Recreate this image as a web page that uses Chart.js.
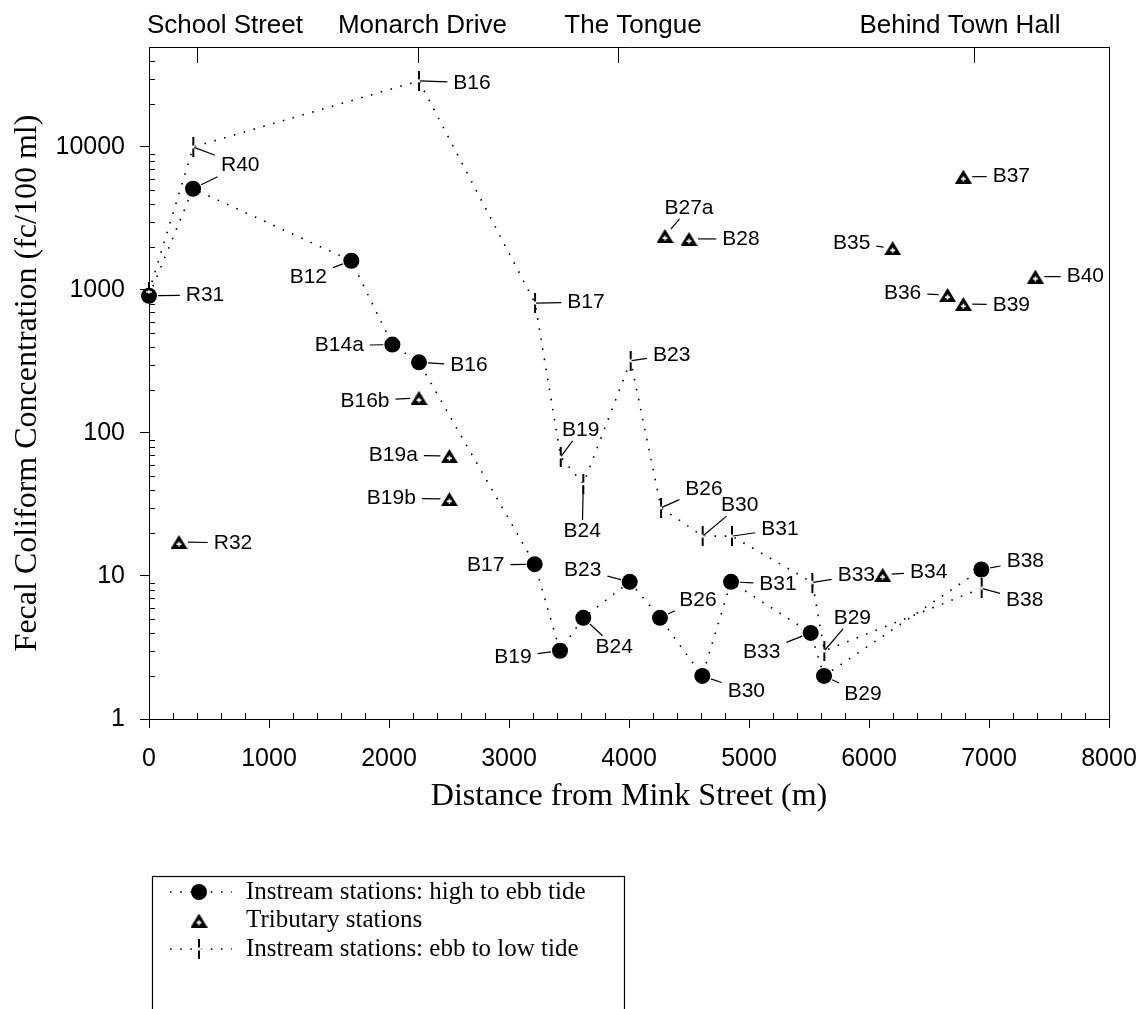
<!DOCTYPE html>
<html>
<head>
<meta charset="utf-8">
<title>Fecal coliform along the creek</title>
<script src="https://cdn.jsdelivr.net/npm/chart.js@4.4.1/dist/chart.umd.min.js"></script>
<style>
  html, body { margin: 0; padding: 0; background: #fff; }
  canvas { display: block; }
</style>
</head>
<body>
<canvas id="chart" width="1142" height="1009"></canvas>
<script>
// ---- Data -------------------------------------------------------------
// Instream stations, sampled from high to ebb tide
const highStations = ['R31', 'R40', 'B12', 'B14a', 'B16', 'B17', 'B19', 'B24', 'B23', 'B26', 'B30', 'B31', 'B33', 'B29', 'B38'];
const highDistance = [0, 367, 1686, 2028, 2250, 3214, 3425, 3619, 4006, 4258, 4611, 4850, 5514, 5625, 6936];
const highCount    = [910, 5100, 1600, 415, 312, 12.1, 3.0, 5.1, 9.1, 5.1, 2.0, 9.1, 4.0, 2.0, 11.1];

// Instream stations, sampled from ebb to low tide
const lowStations = ['R31', 'R40', 'B16', 'B17', 'B19', 'B24', 'B23', 'B26', 'B30', 'B31', 'B33', 'B29', 'B38'];
const lowDistance = [0, 369, 2250, 3217, 3431, 3619, 4014, 4267, 4614, 4858, 5528, 5628, 6939];
const lowCount    = [970, 10000, 29000, 810, 68, 44, 320, 30, 19, 19, 9.0, 3.0, 8.2];

// Tributary stations
const tribStations = ['R32', 'B16b', 'B19a', 'B19b', 'B27a', 'B28', 'B34', 'B35', 'B36', 'B37', 'B39', 'B40'];
const tribDistance = [250, 2250, 2503, 2503, 4300, 4500, 6114, 6197, 6655, 6786, 6786, 7386];
const tribCount    = [17.3, 176, 69, 34.5, 2390, 2275, 10.2, 1960, 923, 6200, 798, 1240];

// Axis ticks and landmarks along the creek
const xMajorTicks = [0, 1000, 2000, 3000, 4000, 5000, 6000, 7000, 8000];
const yMajorTicks = [1, 10, 100, 1000, 10000];
const landmarkNames    = ['School Street', 'Monarch Drive', 'The Tongue', 'Behind Town Hall'];
const landmarkDistance = [397, 2244, 3908, 6872];
const landmarkTextAt   = [633, 2279, 4033, 6758];

// Label placement (pixel offset of the label centre from its marker)
const highLabelOffset = [[56, -1], [47, -23, 'lineOnly'], [-43, 16], [-53, 1], [50, 3], [-49, 1], [-47, 6],
  [31, 29], [-47, -12], [38, -18], [44, 15], [47, 2], [-49, 19], [39, 18], [44, -8]];
const lowLabelOffset = [null, [47, 18], [53, 2], [51, -1], [20, -27], [-1, 47], [41, -6], [43, -19],
  [37, -31], [48, -7], [44, -7], [28, -33], [43, 12]];
const tribLabelOffset = [[54, 1], [-54, 3], [-56, -1], [-58, -1], [24, -28], [52, 0], [46, -3],
  [-41, -5], [-45, -2], [48, 0], [48, 1], [50, 0]];

// ---- Fonts and symbols ----------------------------------------------------
const SANS = '"Liberation Sans", Arial, Helvetica, sans-serif';
const SERIF = '"Liberation Serif", "Times New Roman", Times, serif';

// Tributary symbol: filled triangle with a small white cross
const triangleSymbol = document.createElement('canvas');
triangleSymbol.width = 17; triangleSymbol.height = 14;
(function () {
  const g = triangleSymbol.getContext('2d');
  g.fillStyle = '#000';
  g.beginPath(); g.moveTo(8.5, 0); g.lineTo(17, 14); g.lineTo(0, 14); g.closePath(); g.fill();
  g.fillStyle = '#fff';
  g.fillRect(6, 8.4, 5, 1.6);
  g.fillRect(7.7, 6.7, 1.6, 5);
})();

// Ebb-to-low symbol: short vertical bar broken by a white cross
const barSymbol = document.createElement('canvas');
barSymbol.width = 6; barSymbol.height = 20;
(function () {
  const g = barSymbol.getContext('2d');
  g.fillStyle = '#000';
  g.fillRect(2, 0, 2, 20);
  g.fillStyle = '#fff';
  g.fillRect(2, 8.5, 2, 3);
  g.fillRect(0, 9.3, 6, 1.4);
})();

const toPoints = (xs, ys) => xs.map((x, i) => ({ x: x, y: ys[i] }));
const DOTS = [1.6, 8.6];

// ---- Plugins ------------------------------------------------------------
// Station names with leader lines
const stationLabels = {
  id: 'stationLabels',
  afterDatasetsDraw(chart) {
    const ctx = chart.ctx;
    ctx.save();
    ctx.font = '21px ' + SANS;
    ctx.fillStyle = '#000';
    ctx.strokeStyle = '#000';
    ctx.lineWidth = 1.2;
    ctx.textAlign = 'center';
    ctx.textBaseline = 'middle';
    chart.data.datasets.forEach((ds, di) => {
      const meta = chart.getDatasetMeta(di);
      ds.stationNames.forEach((name, i) => {
        const off = ds.labelOffsets[i];
        if (!off) return;
        const el = meta.data[i];
        const px = el.x, py = el.y;
        const cx = px + off[0], cy = py + off[1];
        const hw = ctx.measureText(name).width / 2 + 6, hh = 11;
        const vx = px - cx, vy = py - cy;
        const t = Math.min(vx ? hw / Math.abs(vx) : Infinity, vy ? hh / Math.abs(vy) : Infinity);
        const ex = cx + vx * t, ey = cy + vy * t;
        const len = Math.hypot(ex - px, ey - py) || 1;
        const sx = px + (ex - px) / len * ds.leaderGap;
        const sy = py + (ey - py) / len * ds.leaderGap;
        ctx.beginPath(); ctx.moveTo(sx, sy); ctx.lineTo(ex, ey); ctx.stroke();
        if (off[2] !== 'lineOnly') ctx.fillText(name, cx, cy);
      });
    });
    ctx.restore();
  }
};

// Plot frame, inside minor ticks, landmark marks and the legend box
const frameAndLegend = {
  id: 'frameAndLegend',
  afterDraw(chart) {
    const { ctx, chartArea: a } = chart;
    const xs = chart.scales.x, ys = chart.scales.y;
    const line = (x1, y1, x2, y2) => { ctx.beginPath(); ctx.moveTo(x1, y1); ctx.lineTo(x2, y2); ctx.stroke(); };
    ctx.save();
    ctx.strokeStyle = '#000';
    ctx.lineWidth = 1;
    line(a.left, a.top + 0.5, a.right + 0.5, a.top + 0.5);
    line(a.right + 0.5, a.top, a.right + 0.5, a.bottom);

    ys.ticks.forEach(t => {
      if (yMajorTicks.includes(t.value)) return;
      const py = Math.round(ys.getPixelForValue(t.value)) + 0.5;
      line(a.left, py, a.left + 6, py);
    });
    xs.ticks.forEach(t => {
      if (xMajorTicks.includes(t.value)) return;
      const px = Math.round(xs.getPixelForValue(t.value)) + 0.5;
      line(px, a.bottom, px, a.bottom - 6);
    });

    landmarkDistance.forEach(d => {
      const px = Math.round(xs.getPixelForValue(d)) + 0.5;
      line(px, a.top, px, a.top + 16);
    });
    ctx.fillStyle = '#000';
    ctx.font = '26px ' + SANS;
    ctx.textAlign = 'center';
    ctx.textBaseline = 'middle';
    landmarkNames.forEach((n, i) => ctx.fillText(n, xs.getPixelForValue(landmarkTextAt[i]), 26));

    // legend
    const lx = 152.5, ly = 876.5, rows = [892, 920.5, 949], sx = 199;
    ctx.lineWidth = 1.2;
    ctx.strokeRect(lx, ly, 472, 200);
    ctx.lineWidth = 1.6;
    ctx.setLineDash(DOTS);
    line(170, rows[0], 232, rows[0]);
    line(170, rows[2], 232, rows[2]);
    ctx.setLineDash([]);
    ctx.beginPath(); ctx.arc(sx, rows[0], 8, 0, Math.PI * 2); ctx.fill();
    ctx.drawImage(triangleSymbol, sx - 8.5, rows[1] - 7);
    ctx.drawImage(barSymbol, sx - 3, rows[2] - 10);
    ctx.font = '25px ' + SERIF;
    ctx.textAlign = 'left';
    ctx.fillText('Instream stations: high to ebb tide', 246, rows[0]);
    ctx.fillText('Tributary stations', 246, rows[1]);
    ctx.fillText('Instream stations: ebb to low tide', 246, rows[2]);
    ctx.restore();
  }
};

// ---- Chart --------------------------------------------------------------
Chart.defaults.color = '#000';

new Chart(document.getElementById('chart'), {
  type: 'scatter',
  data: {
    datasets: [
      {
        label: 'Instream stations: ebb to low tide',
        data: toPoints(lowDistance, lowCount),
        stationNames: lowStations, labelOffsets: lowLabelOffset, leaderGap: 1,
        showLine: true, borderColor: '#000', borderWidth: 1.6, borderDash: DOTS,
        pointStyle: barSymbol, pointRadius: 10, order: 0, clip: false
      },
      {
        label: 'Instream stations: high to ebb tide',
        data: toPoints(highDistance, highCount),
        stationNames: highStations, labelOffsets: highLabelOffset, leaderGap: 9,
        showLine: true, borderColor: '#000', borderWidth: 1.6, borderDash: DOTS,
        pointStyle: 'circle', pointRadius: 8, pointBackgroundColor: '#000',
        pointBorderWidth: 0, order: 1, clip: false
      },
      {
        label: 'Tributary stations',
        data: toPoints(tribDistance, tribCount),
        stationNames: tribStations, labelOffsets: tribLabelOffset, leaderGap: 9,
        showLine: false, pointStyle: triangleSymbol, pointRadius: 9, order: 2, clip: false
      }
    ]
  },
  options: {
    responsive: false,
    animation: false,
    devicePixelRatio: 1,
    layout: { padding: { top: 47, right: 33, bottom: 180, left: 0 } },
    plugins: { legend: { display: false }, tooltip: { enabled: false } },
    scales: {
      x: {
        type: 'linear', min: 0, max: 8000,
        ticks: {
          stepSize: 200, autoSkip: false, maxRotation: 0, padding: 16,
          font: { family: SANS, size: 25 }, color: '#000',
          callback: v => xMajorTicks.includes(v) ? String(v) : ''
        },
        grid: {
          drawOnChartArea: false, drawTicks: true, tickLength: 9, tickWidth: 1,
          tickColor: c => (c.tick && xMajorTicks.includes(c.tick.value)) ? '#000' : 'rgba(0,0,0,0)'
        },
        border: { display: true, color: '#000', width: 1 },
        title: {
          display: true, text: 'Distance from Mink Street (m)', color: '#000',
          font: { family: SERIF, size: 32 }, padding: { top: 0, bottom: 13 }
        },
        afterFit: s => { s.height = 110; s.paddingLeft = 0; s.paddingRight = 0; }
      },
      y: {
        type: 'logarithmic', min: 1, max: 50000,
        afterBuildTicks: s => {
          const t = [];
          yMajorTicks.forEach(d => { for (let m = 1; m <= 9; m++) { if (m * d < 50000) t.push({ value: m * d }); } });
          s.ticks = t;
        },
        ticks: {
          autoSkip: false, padding: 15,
          font: { family: SANS, size: 25 }, color: '#000',
          callback: v => yMajorTicks.includes(v) ? String(v) : ''
        },
        grid: {
          drawOnChartArea: false, drawTicks: true, tickLength: 9, tickWidth: 1,
          tickColor: c => (c.tick && yMajorTicks.includes(c.tick.value)) ? '#000' : 'rgba(0,0,0,0)'
        },
        border: { display: true, color: '#000', width: 1 },
        title: {
          display: true, text: 'Fecal Coliform Concentration (fc/100 ml)', color: '#000',
          font: { family: SERIF, size: 32 }, padding: { top: 8, bottom: 0 }
        },
        afterFit: s => { s.width = 149; s.paddingTop = 0; s.paddingBottom = 0; }
      }
    }
  },
  plugins: [stationLabels, frameAndLegend]
});
</script>
</body>
</html>
